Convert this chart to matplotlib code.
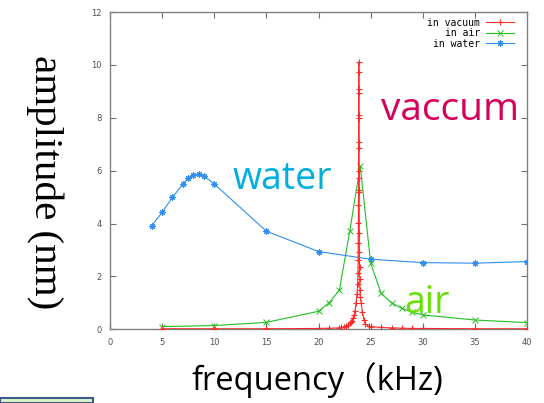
import matplotlib
matplotlib.use("Agg")
import matplotlib.pyplot as plt
from matplotlib.patches import Rectangle

# ---- data ----
water_x = [4, 5, 6, 7, 7.5, 8, 8.5, 9, 10, 15, 20, 25, 30, 35, 40]
water_y = [3.91, 4.42, 4.99, 5.5, 5.71, 5.83, 5.87, 5.8, 5.5, 3.71, 2.94, 2.65, 2.52, 2.5, 2.56]

air_x = [5, 10, 15, 20, 21, 22, 23, 24, 25, 26, 27, 28, 29, 30, 35, 40]
air_y = [0.1, 0.14, 0.26, 0.68, 1.0, 1.48, 3.72, 6.18, 2.5, 1.36, 1.0, 0.79, 0.64, 0.54, 0.35, 0.25]

vac_x = [5, 10, 15, 20, 21, 22.0, 22.2, 22.4, 22.6, 22.8, 23.0, 23.1, 23.2, 23.3, 23.4,
         23.5, 23.6, 23.7, 23.75, 23.78, 23.8, 23.81, 23.82, 23.83, 23.84, 23.84, 23.85,
         23.85, 23.86, 23.86, 23.87, 23.87, 23.88, 23.88, 23.89, 23.9, 23.91, 23.92, 23.93,
         23.95, 23.97, 24.0, 24.1, 24.2, 24.35, 24.5, 24.8, 25, 26, 27, 28, 29, 30, 35, 40]
vac_y = [0.02, 0.02, 0.02, 0.03, 0.04, 0.05, 0.07, 0.09, 0.12, 0.16, 0.22, 0.27, 0.33, 0.42, 0.54,
         0.7, 1.0, 1.35, 1.73, 2.11, 2.62, 3.25, 4.01, 4.7, 5.28, 5.97, 7.07,
         8.1, 9.1, 10.11, 9.72, 8.94, 7.98, 6.87, 5.72, 5.21, 3.63, 2.94, 2.37,
         1.92, 1.48, 1.23, 0.98, 0.67, 0.35, 0.2, 0.12, 0.1, 0.07, 0.05, 0.04, 0.03, 0.03, 0.02, 0.02]

series_labels = ["in vacuum", "in air", "in water"]
xticks = [0, 5, 10, 15, 20, 25, 30, 35, 40]
yticks = [0, 2, 4, 6, 8, 10, 12]

# ---- figure ----
fig = plt.figure(figsize=(5.44, 4.03), dpi=100)
ax = fig.add_axes([0.202, 0.183, 0.767, 0.787])

c_vac = "#ff2a2a"
c_air = "#22c022"
c_wat = "#2f8ff0"

ax.plot(vac_x, vac_y, color=c_vac, lw=0.8, marker="+", ms=5, mew=0.8, label=series_labels[0], zorder=4)
ax.plot(air_x, air_y, color=c_air, lw=0.8, marker="x", ms=4, mew=0.7, label=series_labels[1], zorder=3)
ax.plot(water_x, water_y, color=c_wat, lw=0.8, marker=(8, 2, 0), ms=4.5, mew=0.8, label=series_labels[2], zorder=3)

ax.set_xlim(0, 40)
ax.set_ylim(0, 12)
ax.set_xticks(xticks)
ax.set_yticks(yticks)
ax.tick_params(direction="in", top=True, right=True, length=4, width=0.8,
               colors="#707070", labelsize=6, labelcolor="#505050", pad=6)
for s in ax.spines.values():
    s.set_color("#808080")
    s.set_linewidth(1.0)

leg = ax.legend(loc="upper right", bbox_to_anchor=(0.969, 0.982), frameon=False,
                markerfirst=False, handlelength=2.9, handletextpad=0.6,
                borderaxespad=0, borderpad=0, labelspacing=0.05,
                prop={"family": "DejaVu Sans Mono", "size": 7})
for t in leg.get_texts():
    t.set_ha("right")
leg._legend_box.align = "right"

# annotations
ax.text(32.6, 8.3, "vaccum", color="#d6005a", fontsize=28, family="Open Sans",
        ha="center", va="center")
ax.text(16.5, 5.7, "water", color="#00aee0", fontsize=27, family="Open Sans",
        ha="center", va="center")
ax.text(30.4, 1.0, "air", color="#66e000", fontsize=27, family="Open Sans",
        ha="center", va="center")

fig.text(0.584, 0.057, "frequency\uff08kHz)", color="black", fontsize=23.5,
         family=["Open Sans", "Noto Sans CJK JP", "DejaVu Sans"], ha="center", va="center")
fig.text(0.083, 0.548, "amplitude (nm)", color="black", fontsize=29.5,
         family="Liberation Serif", rotation=-90, ha="center", va="center")

# partial box at bottom-left
fig.patches.append(Rectangle((0, 0), 93 / 544, 5 / 403, transform=fig.transFigure,
                             facecolor="#dcf5c8", edgecolor="#3a5a8a", lw=1.5, clip_on=False))

fig.savefig("out.png", dpi=100)
